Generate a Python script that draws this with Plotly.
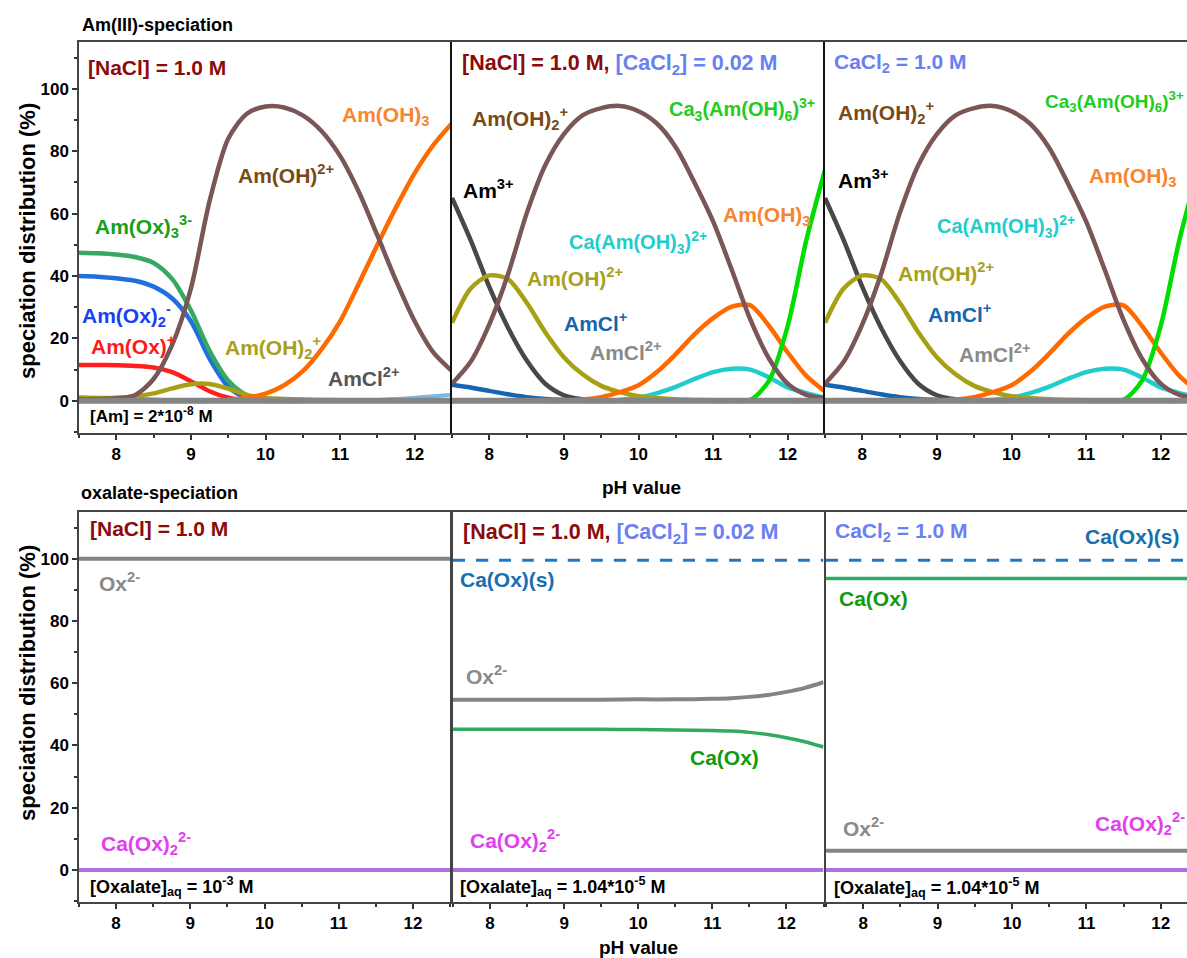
import plotly.graph_objects as go

# ---------------- data ----------------
ph_top = [7.5, 7.75, 8.0, 8.25, 8.5, 8.75, 9.0, 9.25, 9.5, 9.75, 10.0, 10.25,
          10.5, 10.75, 11.0, 11.25, 11.5, 11.75, 12.0, 12.25, 12.5]

# panel 1: [NaCl] = 1.0 M
p1_AmOH_2p = [0.5, 0.6, 0.8, 1.8, 7, 18, 36, 64, 84, 92, 94.3, 94, 91.5, 86.5, 78.5, 67, 53, 38.5, 25.5, 15.5, 9.5]
p1_AmOH3 = [0, 0, 0, 0, 0, 0, 0, 0, 0.3, 1, 2.3, 5, 9.5, 16.5, 25.5, 37.5, 50, 62, 73, 82, 89]
p1_AmOx3 = [47.5, 47.3, 46.9, 46.1, 44.2, 39, 29, 16, 6.5, 1.8, 0.4, 0, 0, 0, 0, 0, 0, 0, 0, 0, 0]
p1_AmOx2 = [40, 39.8, 39.3, 38.5, 36.6, 32.8, 25.5, 13.5, 4.5, 0.8, 0.1, 0, 0, 0, 0, 0, 0, 0, 0, 0, 0]
p1_AmOx = [11.5, 11.5, 11.4, 11.2, 10.7, 9.2, 6.3, 3.1, 1, 0.2, 0, 0, 0, 0, 0, 0, 0, 0, 0, 0, 0]
p1_AmOH2 = [0.8, 0.9, 1.0, 1.4, 2.4, 4.0, 5.3, 5.4, 3.9, 1.9, 0.9, 0.6, 0.4, 0.3, 0.2, 0.1, 0.1, 0.1, 0.1, 0.1, 0.1]
p1_Am3 = [1.2, 1.05, 0.9, 0.7, 0.5, 0.35, 0.2, 0.1, 0.05, 0, 0, 0, 0, 0, 0, 0, 0, 0, 0, 0, 0]
p1_AmOH4 = [0, 0, 0, 0, 0, 0, 0, 0, 0, 0, 0, 0, 0, 0, 0, 0.1, 0.3, 0.6, 1.0, 1.5, 2.0]
p1_AmCl2 = [0] * 21

# panels 2 & 3: with CaCl2
pc_AmOH_2p = [5.5, 12.5, 24.5, 40.5, 60, 75.5, 85.5, 91.5, 93.8, 94.5, 92.8, 88.8, 81.3, 70, 57.5, 42, 26, 13.5, 5.5, 1.9, 0.8]
pc_Am3 = [65, 51.5, 36.5, 23.5, 13, 5.5, 1.8, 0.5, 0.1, 0, 0, 0, 0, 0, 0, 0, 0, 0, 0, 0, 0]
pc_AmOH2 = [25, 36, 40.2, 39, 31.5, 22, 14, 8.5, 4.8, 2.8, 1.5, 0.9, 0.5, 0.3, 0.2, 0.1, 0.1, 0.1, 0, 0, 0]
pc_AmCl = [5.2, 4.3, 3.2, 2.1, 1.2, 0.6, 0.3, 0.1, 0, 0, 0, 0, 0, 0, 0, 0, 0, 0, 0, 0, 0]
pc_AmOH3 = [0, 0, 0, 0, 0, 0, 0, 0.4, 1.2, 2.8, 5, 9.3, 15, 21.3, 26.5, 30.2, 30.6, 24, 15.5, 8, 3]
pc_CaAmOH3 = [0, 0, 0, 0, 0, 0, 0, 0, 0, 0.3, 1, 2.5, 4.5, 7, 9.2, 10.3, 10, 7.5, 4.3, 2.5, 1]
pc_Ca3AmOH6 = [0, 0, 0, 0, 0, 0, 0, 0, 0, 0, 0, 0, 0, 0, 0, 0, 0.3, 6.5, 24, 51.5, 74]
pc_AmOx = [0.4, 0.4, 0.3, 0.3, 0.2, 0.2, 0.1, 0.1, 0, 0, 0, 0, 0, 0, 0, 0, 0, 0, 0, 0, 0]
pc_AmCl2 = [0] * 21

ph_bot = [7.5, 8, 8.5, 9, 9.5, 10, 10.5, 11, 11.25, 11.5, 11.75, 12, 12.25, 12.5]
b1_Ox = [100] * 14
b1_CaOx2 = [0] * 14
b2_CaOxs = [99.5] * 14
b2_Ox = [54.7, 54.7, 54.7, 54.7, 54.7, 54.8, 54.8, 55.0, 55.2, 55.6, 56.2, 57.2, 58.5, 60.3]
b2_CaOx = [45.2, 45.2, 45.2, 45.2, 45.2, 45.1, 45.0, 44.8, 44.6, 44.2, 43.5, 42.5, 41.2, 39.5]
b2_CaOx2 = [0] * 14
b3_CaOxs = [99.5] * 14
b3_CaOx = [93.6] * 14
b3_Ox = [6.2] * 14
b3_CaOx2 = [0] * 14

x_ticks = [8, 9, 10, 11, 12]
x_minor = [7.5, 8.5, 9.5, 10.5, 11.5, 12.5]
y_ticks = [0, 20, 40, 60, 80, 100]
y_minor = [-10, 10, 30, 50, 70, 90, 110]

# ---------------- style ----------------
W, H = 1187, 958
FONT = "Liberation Sans, Arial, sans-serif"
C_BROWNLINE = "#7a5656"
C_ORANGE = "#ff6a00"
C_GREEN = "#35a862"
C_BLUE = "#1f6fdc"
C_RED = "#ff1f1f"
C_OLIVE = "#a8a014"
C_DARK = "#484848"
C_GRAY = "#848484"
C_LBLUE = "#7ab8e8"
C_AMCL = "#1565b0"
C_CYAN = "#22cccc"
C_LIME = "#00dd00"
C_PURPLE = "#b070e0"
C_DASH = "#1e78c8"
C_CAOX = "#30aa60"


def fx(px):
    return px / W


def fy(py):
    return 1 - py / H


fig = go.Figure()


def add(xa, ya, xs, ys, color, width=4.5, dash=None):
    fig.add_trace(go.Scatter(x=xs, y=ys, mode="lines", xaxis=xa, yaxis=ya,
                             line=dict(color=color, width=width, shape="spline",
                                       smoothing=0.8, dash=dash),
                             hoverinfo="skip", showlegend=False))


# top panel 1
for ys, c, w in [(p1_AmOH4, C_LBLUE, 4), (p1_Am3, C_DARK, 3),
                 (p1_AmOx, C_RED, 4.5), (p1_AmOx2, C_BLUE, 4.5), (p1_AmOx3, C_GREEN, 4.5),
                 (p1_AmOH2, C_OLIVE, 4.5), (p1_AmOH3, C_ORANGE, 4.5), (p1_AmOH_2p, C_BROWNLINE, 4.5),
                 (p1_AmCl2, C_GRAY, 6)]:
    add("x", "y", ph_top, ys, c, w)

# top panels 2 and 3
for xa, ya in [("x2", "y2"), ("x3", "y3")]:
    for ys, c, w in [(pc_AmOx, C_RED, 2), (pc_AmCl, C_AMCL, 4.5),
                     (pc_CaAmOH3, C_CYAN, 4.5), (pc_Am3, C_DARK, 4.5), (pc_AmOH2, C_OLIVE, 4.5),
                     (pc_AmOH3, C_ORANGE, 4.5), (pc_Ca3AmOH6, C_LIME, 4.5),
                     (pc_AmOH_2p, C_BROWNLINE, 4.5), (pc_AmCl2, C_GRAY, 6)]:
        add(xa, ya, ph_top, ys, c, w)

# bottom panels
add("x4", "y4", ph_bot, b1_Ox, C_GRAY, 4)
add("x4", "y4", ph_bot, b1_CaOx2, C_PURPLE, 4)
add("x5", "y5", ph_bot, b2_CaOxs, C_DASH, 3, "12px,11px")
add("x5", "y5", ph_bot, b2_Ox, C_GRAY, 4)
add("x5", "y5", ph_bot, b2_CaOx, C_CAOX, 3.5)
add("x5", "y5", ph_bot, b2_CaOx2, C_PURPLE, 4)
add("x6", "y6", ph_bot, b3_CaOxs, C_DASH, 3, "12px,11px")
add("x6", "y6", ph_bot, b3_CaOx, C_CAOX, 3.5)
add("x6", "y6", ph_bot, b3_Ox, C_GRAY, 4)
add("x6", "y6", ph_bot, b3_CaOx2, C_PURPLE, 4)

# ---------------- axes ----------------
top_dom = [1 - 433 / H, 1 - 42 / H]
bot_dom = [1 - 902 / H, 1 - 512 / H]
xdoms = {1: [79 / W, 452 / W], 2: [452 / W, 825 / W], 3: [825 / W, 1.0],
         4: [79 / W, 450 / W], 5: [453 / W, 823.5 / W], 6: [826 / W, 1.0]}
xr3 = 7.5 + (W - 825) / 74.6

tickfont = dict(family=FONT, size=17, color="black", weight="bold")
layout = {}
for i in range(1, 7):
    key = "xaxis" if i == 1 else f"xaxis{i}"
    rng = [7.5, xr3] if i in (3, 6) else [7.5, 12.5]
    layout[key] = dict(domain=xdoms[i], range=rng, anchor="y" if i == 1 else f"y{i}",
                       tickvals=x_ticks, ticks="outside", ticklen=5, tickwidth=1.5,
                       tickcolor="#333", showline=True, linecolor="#444", linewidth=1.5,
                       mirror=True, showgrid=False, zeroline=False, tickfont=tickfont,
                       minor=dict(tickvals=x_minor, ticks="outside", ticklen=3,
                                  tickwidth=1.5, tickcolor="#333"),
                       fixedrange=True)
    ykey = "yaxis" if i == 1 else f"yaxis{i}"
    ydict = dict(domain=top_dom if i <= 3 else bot_dom, range=[-10.3, 115],
                 anchor="x" if i == 1 else f"x{i}", showgrid=False, zeroline=False,
                 fixedrange=True, showline=True)
    if i in (1, 4):
        ydict.update(tickvals=y_ticks, ticks="outside", ticklen=5, tickwidth=1.5,
                     tickcolor="#333", linecolor="#444", linewidth=1.5, tickfont=tickfont,
                     minor=dict(tickvals=y_minor, ticks="outside", ticklen=3,
                                tickwidth=1.5, tickcolor="#333"))
    else:
        ydict.update(showticklabels=False, ticks="", linecolor="#111" if i <= 3 else "#444",
                     linewidth=2 if i <= 3 else 1.5)
    if i in (4, 5):
        ydict.update(mirror=True)
    layout[ykey] = ydict

# ---------------- annotations ----------------
DARKRED = "#8b0a0a"
LBLUETXT = "#6a80f2"
ann = []


def txt(px, py, text, color="black", size=21, xanchor="left"):
    ann.append(dict(x=fx(px), y=fy(py), xref="paper", yref="paper", text=text,
                    showarrow=False, xanchor=xanchor, yanchor="middle",
                    font=dict(family=FONT, size=size, color=color, weight="bold")))


hdr2 = (f"[NaCl] = 1.0 M, <span style='color:{LBLUETXT}'>[CaCl<sub>2</sub>] = 0.02 M</span>")
hdr3 = "CaCl<sub>2</sub> = 1.0 M"

# titles
txt(80, 25, "Am(III)-speciation", size=18)
txt(79, 493, "oxalate-speciation", size=18)
txt(641, 487, "pH value", size=19, xanchor="center")
txt(638, 947, "pH value", size=19, xanchor="center")
for cy in (241, 683):
    ann.append(dict(x=fx(27), y=fy(cy), xref="paper", yref="paper",
                    text="speciation distribution (%)", textangle=-90, showarrow=False,
                    xanchor="center", yanchor="middle",
                    font=dict(family=FONT, size=22, color="black", weight="bold")))

# top panel 1
txt(86, 68, "[NaCl] = 1.0 M", DARKRED)
txt(340, 116, "Am(OH)<sub>3</sub>", "#f7862f")
txt(236, 174, "Am(OH)<sup>2+</sup>", "#7a4a14")
txt(93, 226, "Am(Ox)<sub>3</sub><sup>3-</sup>", "#17a017")
txt(80, 315, "Am(Ox)<sub>2</sub><sup>-</sup>", "#1a3ff0")
txt(89, 345, "Am(Ox)<sup>+</sup>", "#ff1a1a")
txt(223, 347, "Am(OH)<sub>2</sub><sup>+</sup>", "#a8a01a")
txt(326, 377, "AmCl<sup>2+</sup>", "#555555")
txt(88, 415, "[Am] = 2*10<sup>-8</sup> M", "black", 17)

# top panels 2, 3
txt(460, 64, hdr2, DARKRED, 21.5)
txt(832, 63, hdr3, LBLUETXT)
for ca3size, pos in [(20, dict(ohp=(470, 118), ca3=(667, 110), am3=(461, 189), oh3=(721, 216),
                                caam=(567, 243), oh2=(525, 277), amcl=(562, 322), amcl2=(588, 351))),
                     (19, dict(ohp=(836, 113), ca3=(1043, 101), am3=(836, 179), oh3=(1087, 177),
                                caam=(935, 226), oh2=(896, 272), amcl=(926, 313), amcl2=(957, 353)))]:
    txt(*pos["ohp"], "Am(OH)<sub>2</sub><sup>+</sup>", "#7a4a14")
    txt(*pos["ca3"], "Ca<sub>3</sub>(Am(OH)<sub>6</sub>)<sup>3+</sup>", "#22cc22", ca3size)
    txt(*pos["am3"], "Am<sup>3+</sup>", "black")
    txt(*pos["oh3"], "Am(OH)<sub>3</sub>", "#f7862f")
    txt(*pos["caam"], "Ca(Am(OH)<sub>3</sub>)<sup>2+</sup>", "#22cccc", 20)
    txt(*pos["oh2"], "Am(OH)<sup>2+</sup>", "#a8a01a")
    txt(*pos["amcl"], "AmCl<sup>+</sup>", "#1565b0")
    txt(*pos["amcl2"], "AmCl<sup>2+</sup>", "#8a8a8a")

# bottom panel 1
txt(88, 528, "[NaCl] = 1.0 M", DARKRED)
txt(97, 582, "Ox<sup>2-</sup>", "#8a8a8a")
txt(99, 843, "Ca(Ox)<sub>2</sub><sup>2-</sup>", "#e040f0")
txt(88, 886, "[Oxalate]<sub>aq</sub> = 10<sup>-3</sup> M", "black", 18)
# bottom panel 2
txt(461, 533, hdr2, DARKRED, 21.5)
txt(458, 579, "Ca(Ox)(s)", "#1670b0")
txt(464, 675, "Ox<sup>2-</sup>", "#8a8a8a")
txt(688, 757, "Ca(Ox)", "#109a10")
txt(468, 840, "Ca(Ox)<sub>2</sub><sup>2-</sup>", "#e040f0")
txt(458, 886, "[Oxalate]<sub>aq</sub> = 1.04*10<sup>-5</sup> M", "black", 18)
# bottom panel 3
txt(833, 532, hdr3, LBLUETXT)
txt(1083, 536, "Ca(Ox)(s)", "#1670b0")
txt(837, 598, "Ca(Ox)", "#109a10")
txt(841, 827, "Ox<sup>2-</sup>", "#8a8a8a")
txt(1093, 823, "Ca(Ox)<sub>2</sub><sup>2-</sup>", "#e040f0")
txt(832, 887, "[Oxalate]<sub>aq</sub> = 1.04*10<sup>-5</sup> M", "black", 18)

fig.update_layout(width=W, height=H, margin=dict(l=0, r=0, t=0, b=0),
                  paper_bgcolor="white", plot_bgcolor="white",
                  font=dict(family=FONT), annotations=ann, **layout)

fig.write_html("out.html")
